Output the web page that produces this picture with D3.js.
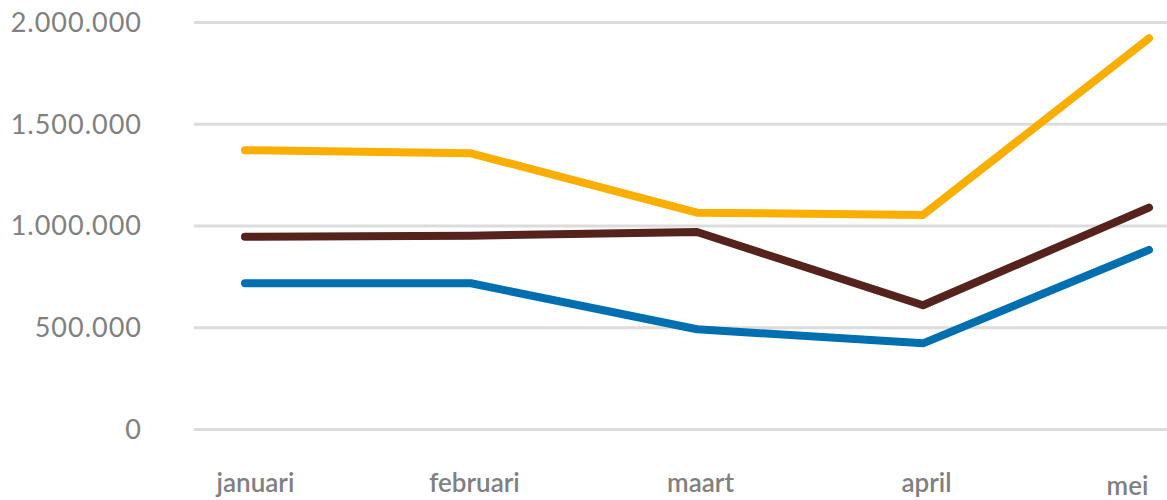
<!DOCTYPE html>
<html>
<head>
<meta charset="utf-8">
<script src="https://cdnjs.cloudflare.com/ajax/libs/d3/7.8.5/d3.min.js"></script>
<style>
  body { margin: 0; background: #fff; }
  #graph text { font-family: Lato, "Open Sans", sans-serif; fill: #808080; }
</style>
</head>
<body>
<div id="graph"></div>
<script>
// data
const months = ["januari", "februari", "maart", "april", "mei"];
const yellowValues = [1370000, 1355000, 1063000, 1052000, 1920000];
const brownValues = [945000, 950000, 968000, 608000, 1088000];
const blueValues = [716000, 716000, 490000, 421000, 880000];
const yTicks = [0, 500000, 1000000, 1500000, 2000000];

const series = [
  {name: "geel", values: yellowValues, color: "#f9ae00"},
  {name: "bruin", values: brownValues, color: "#55231b"},
  {name: "blauw", values: blueValues, color: "#006fb0"}
];

// set the dimensions and margins of the graph
const margin = {top: 22, right: 0, bottom: 71, left: 194},
  width = 1167 - margin.left - margin.right,
  height = 500 - margin.top - margin.bottom;

const svg = d3.select("#graph")
.append("svg")
  .attr("width", width + margin.left + margin.right)
  .attr("height", height + margin.top + margin.bottom)
.append("g")
  .attr("transform", `translate(${margin.left}, ${margin.top})`);

const x = d3.scalePoint()
  .domain(months)
  .range([51, 955]);

const y = d3.scaleLinear()
  .domain([0, 2000000])
  .range([height, 0]);

// thousands with dots, like the original
const fmt = d3.formatLocale({decimal: ",", thousands: ".", grouping: [3], currency: ["€", ""]}).format(",d");

// gridlines + y labels
const yAxis = svg.append("g")
  .call(d3.axisLeft(y).tickValues(yTicks).tickSize(-width).tickPadding(52).tickFormat(fmt));
yAxis.select(".domain").remove();
yAxis.selectAll(".tick line").attr("stroke", "#dcdcdc").attr("stroke-width", 3);
yAxis.selectAll(".tick text")
  .attr("font-size", 27)
  .attr("letter-spacing", 1)
  .attr("dy", "0.35em");

// x labels
const xAxis = svg.append("g")
  .attr("transform", `translate(0, ${height})`)
  .call(d3.axisBottom(x).tickSize(0).tickPadding(45));
xAxis.select(".domain").remove();
xAxis.selectAll(".tick text")
  .attr("font-size", 26)
  .attr("font-weight", 600)
  .attr("fill", "#858585")
  .attr("dx", (d, i) => i === 0 ? 10 : i === months.length - 1 ? -22 : 3)
  .attr("dy", (d, i) => i === months.length - 1 ? "0.8em" : "0.71em");

// the lines
const line = d3.line()
  .x((d, i) => x(months[i]))
  .y(d => y(d));

svg.append("g")
  .selectAll("path")
  .data(series)
  .enter()
  .append("path")
    .attr("d", d => line(d.values))
    .attr("fill", "none")
    .attr("stroke", d => d.color)
    .attr("stroke-width", 8)
    .attr("stroke-linecap", "round")
    .attr("stroke-linejoin", "round");
</script>
</body>
</html>
